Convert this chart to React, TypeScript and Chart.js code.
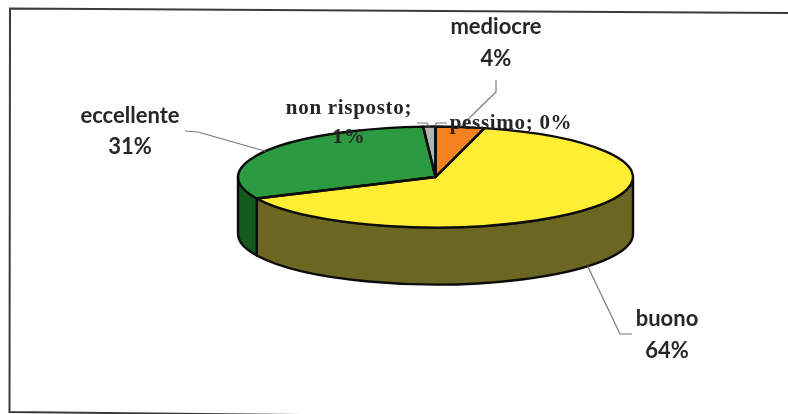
import React, { useEffect, useRef } from "react";
import { Chart, registerables } from "chart.js";

Chart.register(...registerables);

const categories = ["mediocre", "buono", "eccellente", "non risposto", "pessimo"];
const values = [4, 64, 31, 1, 0];
const topColors = ["#f58220", "#ffee33", "#2b9a40", "#b5b5b0", "#8a8a8a"];
const sideColors = ["#8f4a10", "#6b6722", "#135a1f", "#666666", "#555555"];

// label text lines and anchor positions
const labelLines = [["mediocre", "4%"], ["buono", "64%"], ["eccellente", "31%"], ["non risposto;", "1%"], ["pessimo; 0%"]];
const labelX = [496, 667, 130, 349, 511];
const labelY = [[27, 59], [319, 351], [116, 147], [109, 138], [124]];
const labelSerif = [false, false, false, true, true];
// elbow points of the leader lines, from label to slice
const leaders = [
  [[496, 80], [496, 92]],
  [[632, 334], [620, 334]],
  [[185, 131], [198, 132]],
  [[417, 123], [427, 123]],
  [[447, 123], [436, 123]],
];

const CX = 435.5, CY = 177, RY = 50.5, DEPTH = 57;

const pie3d = {
  id: "pie3d",
  beforeDraw(chart: any) {
    const { ctx } = chart;
    ctx.save();
    ctx.fillStyle = "#ffffff";
    ctx.fillRect(0, 0, 788, 414);
    // scanned frame: slightly tilted, right side cropped away
    ctx.strokeStyle = "#3a3a3a";
    ctx.lineWidth = 2;
    ctx.beginPath();
    ctx.moveTo(788, 13);
    ctx.lineTo(10, 8.5);
    ctx.lineTo(9.5, 412);
    ctx.lineTo(300, 415);
    ctx.stroke();
    ctx.restore();
  },
  beforeDatasetsDraw(chart: any) {
    const { ctx } = chart;
    const arcs = chart.getDatasetMeta(0).data;
    const R = arcs[0].outerRadius;
    const ky = RY / R;
    // side wall of the disc
    arcs.forEach((a: any, i: number) => {
      const s = Math.max(a.startAngle, 0);
      const e = Math.min(a.endAngle, Math.PI);
      if (e <= s) return;
      ctx.save();
      ctx.beginPath();
      ctx.ellipse(CX, CY, R, RY, 0, s, e);
      ctx.ellipse(CX, CY + DEPTH, R, RY, 0, e, s, true);
      ctx.closePath();
      ctx.fillStyle = sideColors[i];
      ctx.fill();
      ctx.strokeStyle = "#0c0c0c";
      ctx.lineWidth = 2.4;
      ctx.lineJoin = "round";
      ctx.stroke();
      ctx.restore();
    });
    // squash the library's round pie into the top face
    ctx.save();
    ctx.translate(CX, CY);
    ctx.scale(1, ky);
    ctx.translate(-arcs[0].x, -arcs[0].y);
  },
  afterDatasetsDraw(chart: any) {
    const { ctx } = chart;
    ctx.restore();
    const arcs = chart.getDatasetMeta(0).data;
    const R = arcs[0].outerRadius;
    const rim = (angle: number, drop = 0) => [CX + R * Math.cos(angle), CY + RY * Math.sin(angle) + drop];
    // slice outlines with an even pen width
    arcs.forEach((a: any) => {
      ctx.save();
      ctx.beginPath();
      ctx.moveTo(CX, CY);
      ctx.ellipse(CX, CY, R, RY, 0, a.startAngle, a.endAngle);
      ctx.closePath();
      ctx.strokeStyle = "#0c0c0c";
      ctx.lineWidth = 2.4;
      ctx.lineJoin = "round";
      ctx.stroke();
      ctx.restore();
    });
    // leader lines end on the middle of their slice
    arcs.forEach((a: any, i: number) => {
      const mid = (a.startAngle + a.endAngle) / 2;
      const front = Math.sin(mid) > 0;
      const end = rim(mid, front ? DEPTH : 0);
      ctx.save();
      ctx.beginPath();
      leaders[i].forEach((p, k) => (k === 0 ? ctx.moveTo(p[0], p[1]) : ctx.lineTo(p[0], p[1])));
      ctx.lineTo(end[0], end[1]);
      ctx.strokeStyle = "#77777a";
      ctx.lineWidth = 1.2;
      ctx.stroke();
      ctx.restore();
    });
    // labels
    labelLines.forEach((lines, i) => {
      lines.forEach((t, k) => {
        ctx.save();
        ctx.textAlign = "center";
        ctx.textBaseline = "middle";
        ctx.fillStyle = "#262626";
        ctx.font = labelSerif[i] ? "bold 21px 'Liberation Serif'" : "700 22px Lato";
        (ctx as any).letterSpacing = labelSerif[i] ? "0.7px" : "0px";
        ctx.fillText(t, labelX[i], labelY[i][k]);
        ctx.restore();
      });
    });
  },
};

export default function App() {
  const ref = useRef<HTMLCanvasElement>(null);
  useEffect(() => {
    document.body.style.margin = "0";
    const chart = new Chart(ref.current!, {
      type: "pie",
      data: {
        labels: categories,
        datasets: [{ data: values, backgroundColor: topColors, borderWidth: 0, clip: false } as any],
      },
      options: {
        responsive: false,
        animation: false,
        radius: 197.5,
        rotation: 0,
        layout: { padding: 0 },
        plugins: { legend: { display: false }, tooltip: { enabled: false } },
      } as any,
      plugins: [pie3d],
    });
    return () => chart.destroy();
  }, []);
  return <canvas ref={ref} width={788} height={414} style={{ display: "block", width: 788, height: 414, filter: "blur(0.5px)" }} />;
}
